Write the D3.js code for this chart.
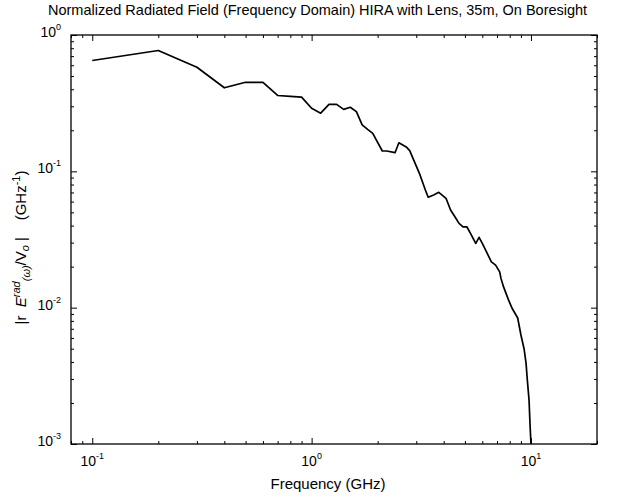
<!DOCTYPE html>
<html><head><meta charset="utf-8">
<script src="https://cdn.jsdelivr.net/npm/d3@7"></script>
<style>body{margin:0;background:#fff;} text{font-family:"Liberation Sans",Arial,sans-serif;fill:#000;}</style>
</head><body><svg id="c" width="644" height="500"></svg>
<script>
const freqs = [0.1,0.2,0.3,0.4,0.5,0.6,0.7,0.8,0.9,1.0,1.1,1.2,1.3,1.4,1.5,1.6,1.7,1.8,1.9,2.1,2.2,2.4,2.5,2.7,2.8,3.1,3.3,3.4,3.6,3.8,4.1,4.3,4.5,4.7,4.9,5.1,5.3,5.6,5.8,6.0,6.6,6.9,7.2,7.3,7.5,7.9,8.2,8.7,9.0,9.3,9.5,9.6,9.8,9.9,10.0];
const values = [0.65,0.77,0.58,0.41,0.45,0.45,0.36,0.355,0.35,0.29,0.267,0.31,0.31,0.285,0.295,0.274,0.219,0.203,0.19,0.141,0.141,0.137,0.162,0.151,0.142,0.0967,0.073,0.0645,0.067,0.0701,0.0634,0.052,0.0464,0.0415,0.0392,0.0392,0.0351,0.0296,0.0328,0.0296,0.0217,0.0205,0.0183,0.0164,0.0142,0.0114,0.0099,0.0084,0.0063,0.0050,0.0039,0.0031,0.0021,0.0014,0.001];
const xMajor = [0.1, 1, 10];
const xMajorExp = ["-1","0","1"];
const yMajor = [0.001, 0.01, 0.1, 1];
const yMajorExp = ["-3","-2","-1","0"];
const titleText = "Normalized Radiated Field (Frequency Domain) HIRA with Lens, 35m, On Boresight";
const xLabel = "Frequency (GHz)";

const L = 71, R = 597, T = 35, B = 444;
const svg = d3.select("#c");
const x = d3.scaleLog().domain([0.08, 20]).range([L, R]);
const y = d3.scaleLog().domain([0.001, 1]).range([B, T]);

const xMinor = [];
[0.01,0.1,1,10].forEach(d => { for (let k=2;k<=9;k++){ const v=d*k; if (v>=0.08 && v<=20 && !xMajor.includes(v)) xMinor.push(v);} });
const yMinor = [];
[0.001,0.01,0.1].forEach(d => { for (let k=2;k<=9;k++) yMinor.push(d*k); });

const g = svg.append("g");
function mk(axisFn, scale, ticks, size, transform){
  g.append("g").attr("transform", transform)
   .call(axisFn(scale).tickValues(ticks).tickSizeInner(size).tickSizeOuter(0).tickFormat(""))
   .call(s => { s.select(".domain").remove(); s.selectAll("line").attr("stroke","#000").attr("stroke-width",1); });
}
mk(d3.axisBottom, x, xMajor, -6, `translate(0,${B})`);
mk(d3.axisBottom, x, xMinor, -3, `translate(0,${B})`);
mk(d3.axisTop, x, xMajor, -6, `translate(0,${T})`);
mk(d3.axisTop, x, xMinor, -3, `translate(0,${T})`);
mk(d3.axisLeft, y, yMajor, -6, `translate(${L},0)`);
mk(d3.axisLeft, y, yMinor, -3, `translate(${L},0)`);
mk(d3.axisRight, y, yMajor, -6, `translate(${R},0)`);
mk(d3.axisRight, y, yMinor, -3, `translate(${R},0)`);

svg.append("rect").attr("x",L).attr("y",T).attr("width",R-L).attr("height",B-T)
  .attr("fill","none").attr("stroke","#000").attr("stroke-width",1.3);

xMajor.forEach((v,i) => {
  const t = svg.append("text").attr("x", x(v)).attr("y", B+22).attr("text-anchor","middle").attr("font-size",14);
  t.append("tspan").text("10");
  t.append("tspan").attr("dy",-7).attr("font-size",9).text(xMajorExp[i]);
});
yMajor.forEach((v,i) => {
  const t = svg.append("text").attr("x", L-10).attr("y", y(v)+2).attr("text-anchor","end").attr("font-size",14);
  t.append("tspan").text("10");
  t.append("tspan").attr("dy",-7).attr("font-size",9).text(yMajorExp[i]);
});

svg.append("text").attr("x", 48).attr("y", 15).attr("text-anchor","start").attr("font-size",14.5).text(titleText);
svg.append("text").attr("x", (L+R)/2 - 6).attr("y", 489).attr("text-anchor","middle").attr("font-size",15).text(xLabel);

const yl = svg.append("text").attr("transform", `translate(26,${(T+B)/2 + 8}) rotate(-90)`).attr("text-anchor","middle").attr("font-size",15).attr("xml:space","preserve");
yl.append("tspan").text("|r  ");
yl.append("tspan").attr("font-style","italic").text("E");
yl.append("tspan").attr("dy",-6).attr("font-size",11).attr("font-style","italic").text("rad");
yl.append("tspan").attr("dy",10).attr("font-size",11).attr("font-style","italic").text("(ω)");
yl.append("tspan").attr("dy",-4).text("/V");
yl.append("tspan").attr("dy",3).attr("font-size",11).attr("font-style","italic").text("o");
yl.append("tspan").attr("dy",-3).text(" |    (GHz");
yl.append("tspan").attr("dy",-6).attr("font-size",11).text("-1");
yl.append("tspan").attr("dy",6).text(")");

const data = freqs.map((f,i) => ({f, v: values[i]}));
svg.append("path").datum(data)
  .attr("fill","none").attr("stroke","#000").attr("stroke-width",1.7).attr("stroke-linejoin","round")
  .attr("d", d3.line().x(d => x(d.f)).y(d => y(d.v)));
</script></body></html>
